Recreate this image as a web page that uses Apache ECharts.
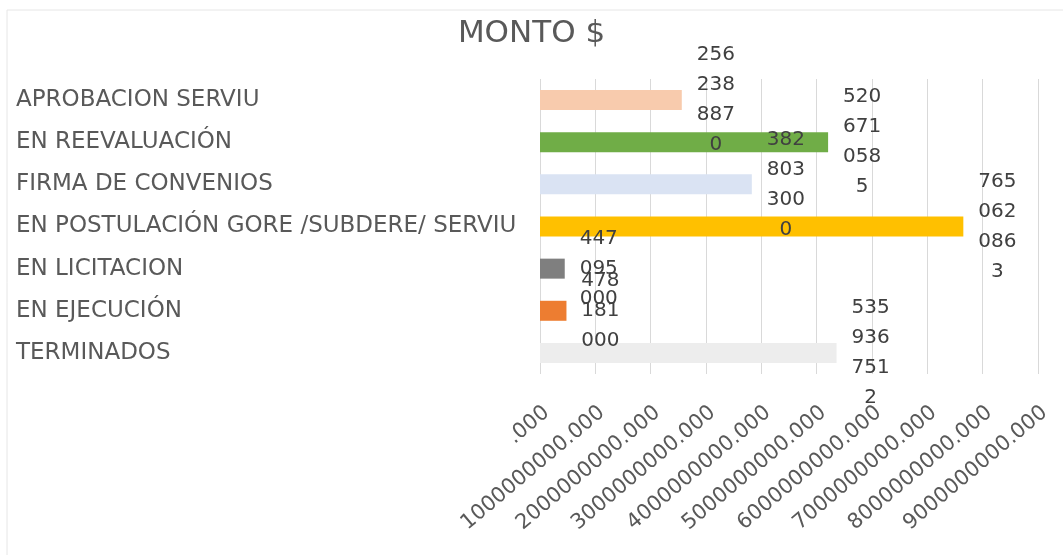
<!DOCTYPE html>
<html>
<head>
<meta charset="utf-8">
<script src="https://cdn.jsdelivr.net/npm/echarts@6/dist/echarts.min.js"></script>
<style>
  html, body { margin: 0; padding: 0; background: #fff; }
  #chart { width: 1063px; height: 555px; }
</style>
</head>
<body>
<div id="chart"></div>
<script>
// categorias (de arriba hacia abajo)
var categories = [
  'APROBACION SERVIU',
  'EN REEVALUACIÓN',
  'FIRMA DE CONVENIOS',
  'EN POSTULACIÓN GORE /SUBDERE/ SERVIU',
  'EN LICITACION',
  'EN EJECUCIÓN',
  'TERMINADOS'
]
// monto $ por estado
var montos = [2562388870, 5206710585, 3828033000, 7650620863, 447095000, 478181000, 5359367512]
var barColors = ['#F8CBAD', '#70AD47', '#DAE3F3', '#FFC000', '#7F7F7F', '#ED7D31', '#EDEDED']
var xTicks = [0, 1000000000, 2000000000, 3000000000, 4000000000, 5000000000, 6000000000, 7000000000, 8000000000, 9000000000]

var chart = echarts.init(document.getElementById('chart'))

// divide el numero en grupos de 3 digitos, uno por linea
function wrapDigits(v) {
  var s = String(v)
  var out = []
  for (var i = 0; i < s.length; i += 3) {
    out.push(s.substr(i, 3))
  }
  return out.join('\n')
}

var data = montos.map(function(v, i) {
  return { value: v, itemStyle: { color: barColors[i] } }
})

chart.setOption({
  backgroundColor: '#fff',
  animation: false,
  textStyle: { fontFamily: 'DejaVu Sans' },
  title: {
    text: 'MONTO $',
    left: 'center',
    top: 13,
    textStyle: {
      fontFamily: 'DejaVu Sans',
      fontSize: 31,
      fontWeight: 'normal',
      color: '#595959'
    }
  },
  grid: {
    left: 540,
    right: 25,
    top: 79,
    bottom: 181
  },
  xAxis: {
    type: 'value',
    min: xTicks[0],
    max: xTicks[xTicks.length - 1],
    interval: 1000000000,
    axisLine: { show: false },
    axisTick: { show: false },
    splitLine: { show: true, lineStyle: { color: '#D9D9D9', width: 1 } },
    axisLabel: {
      rotate: 40,
      margin: 28,
      align: 'right',
      verticalAlign: 'top',
      fontSize: 21,
      color: '#595959',
      formatter: function(v) {
        return (v === 0 ? '' : String(v)) + '.000'
      }
    }
  },
  yAxis: {
    type: 'category',
    inverse: true,
    data: categories,
    axisLine: { show: false },
    axisTick: { show: false },
    axisLabel: {
      align: 'left',
      margin: 524,
      fontSize: 23,
      color: '#595959'
    }
  },
  series: [{
    type: 'bar',
    barWidth: 20,
    data: data,
    label: {
      show: true,
      position: 'right',
      distance: 34,
      align: 'center',
      fontSize: 20,
      lineHeight: 30,
      color: '#404040',
      formatter: function(p) {
        return wrapDigits(p.value)
      }
    }
  }],
  graphic: [
    { type: 'line', shape: { x1: 7, y1: 10, x2: 1063, y2: 10 }, style: { stroke: '#E6E6E6', lineWidth: 1 } },
    { type: 'line', shape: { x1: 7, y1: 10, x2: 7, y2: 555 }, style: { stroke: '#E6E6E6', lineWidth: 1 } }
  ]
})
</script>
</body>
</html>
